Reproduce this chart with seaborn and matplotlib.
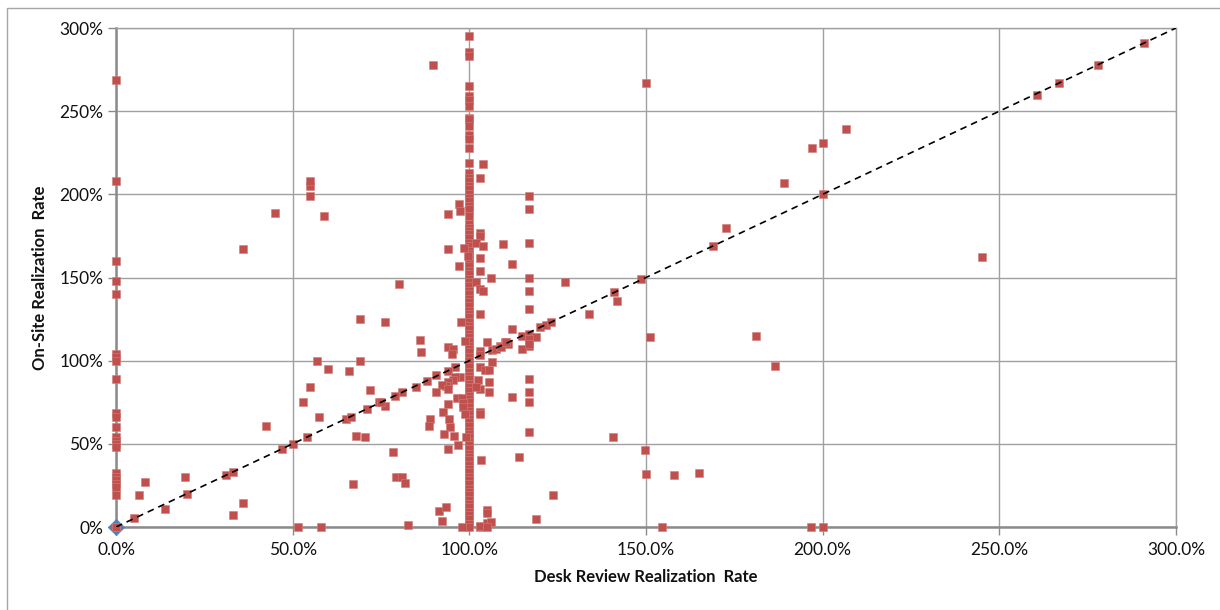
import matplotlib
matplotlib.use("Agg")
import matplotlib.pyplot as plt
import matplotlib.ticker as mticker
from matplotlib.patches import Rectangle
import numpy as np
import pandas as pd
import seaborn as sns

# ---------------- data (percent values) ----------------
# points whose desk review rate is 0%
zero_col_y = [269, 208, 160, 148, 140, 104, 102, 100, 89, 68.7, 66, 60, 54, 52,
              50, 48, 32.5, 30, 28, 26, 24, 19, 0, 0]

# points whose desk review rate is 100%
hundred_col_y = [295, 285.5, 283, 265, 259, 257, 253, 246, 245, 241, 235.5, 233,
                 228, 219, 213, 210, 208, 205, 203, 200, 198, 196, 193, 191, 187,
                 182, 180, 178, 176, 174, 171, 169, 166, 164, 161, 159, 157, 154,
                 152, 149, 147, 145, 142, 140, 137, 135, 133, 130, 128, 126, 123,
                 121, 119, 116, 114, 112, 109, 107, 105, 102, 100, 98, 96, 93, 91,
                 89, 86, 84, 82, 79, 77, 75, 72, 70, 68, 65, 63, 61, 58, 56, 54,
                 51, 49, 47, 44, 42, 40, 37, 35, 33, 30, 28, 26, 23, 21, 19, 16,
                 14, 12, 9, 7, 5, 2, 0]

# all other points (desk review %, on-site %)
other_x = [5.2, 6.6, 8.2, 14, 19.5, 20, 31, 33, 33, 36, 42.5, 47, 50, 51.5,
           36, 45, 55, 55, 55, 59, 69, 57, 69, 60, 66, 55, 72, 53, 57.5, 65,
           66.5, 71, 74.5, 68, 70.5, 54, 67, 58,
           76, 80, 86, 86.3, 94, 95.5, 95, 98.8, 97.6, 96, 94, 90.6, 88, 85,
           81, 79, 76, 75, 97.4, 96, 95.4, 94, 93.4, 92.3, 94, 90.6, 96.5, 98,
           98.2, 98.2, 98.8, 94, 92.6, 89, 94.2, 88.6, 94.5, 92.8, 95.7, 94,
           96.8, 78.4, 79.2, 81, 81.8, 82.6, 91.4, 93.4, 92.3, 98, 99, 89.7,
           97, 97.4, 94, 94, 98.5, 99.5, 97,
           104, 103, 117, 117, 103, 103, 102, 104, 109.5, 117, 103, 103, 112,
           106, 117, 102, 127, 103, 104, 117, 103, 117, 112, 105, 103, 103,
           106.5, 107.5, 108.7, 110, 111, 115, 117, 117, 117, 115, 119, 120,
           121.7, 123, 117, 117, 117, 112, 117, 106.5, 103, 104.5, 105.6,
           102.5, 105.6, 103, 105.6, 102, 103, 103, 103.3, 114, 123.7, 119,
           105, 105, 103, 103, 105, 106, 105, 117, 117, 109, 110.5,
           134, 141, 141.7, 148.6, 151, 140.7, 149.7, 150, 158, 165, 154.5,
           150, 260.7, 267, 278, 291, 206.6, 200, 197, 189, 200, 172.6, 169,
           245, 181, 186.5, 196.7, 200]
other_y = [5.4, 19, 27, 11, 30, 20, 31, 33, 7, 14.5, 61, 47, 50, 0,
           167, 189, 205, 208, 199, 187, 125, 100, 100, 95, 94, 84, 82.5, 75,
           66, 65, 66, 71, 75, 55, 54, 54, 26, 0,
           123.5, 146, 112.6, 105, 108, 107, 104, 112, 123.5, 96, 94, 91.5,
           88, 84, 81, 79, 73, 75, 90, 90, 88.5, 87, 85, 85.5, 83, 81, 77.7,
           77.7, 74.7, 72, 68, 74, 69, 65, 65, 61, 60, 56, 55, 47, 49, 45, 30,
           30, 26.5, 1, 9.6, 12, 3.6, 0, 54, 278, 194, 190, 188, 167, 168,
           163, 157,
           218, 210, 199, 191, 177, 175, 171, 169, 170, 171, 161.5, 154, 158,
           149.5, 150, 147, 147, 143, 141.6, 142, 128, 131, 119, 111.4, 106,
           103.6, 106.6, 107, 109, 111, 110, 115, 116, 112, 109, 107, 114,
           120, 121.7, 123, 89, 81, 75, 78, 57, 99, 96, 94.6, 94.6, 88.5, 87,
           83, 81, 84, 69, 68, 40, 42, 19, 5, 10, 8.4, 0, 0.5, 2.4, 3, 0, 113,
           110, 108, 111,
           128, 141, 136, 149, 114, 54, 46, 32, 31, 32.5, 0,
           267, 260, 267, 278, 291, 239, 231, 228, 207, 200, 180, 169,
           162.6, 115, 97, 0, 0]

origin_x = [0]
origin_y = [0]

diag_x = [0, 300]
diag_y = [0, 300]

x_ticks = [0, 50, 100, 150, 200, 250, 300]
y_ticks = [0, 50, 100, 150, 200, 250, 300]
x_label = "Desk Review Realization  Rate"
y_label = "On-Site Realization  Rate"

# ---------------- build frame ----------------
xs = [0.0] * len(zero_col_y) + [100.0] * len(hundred_col_y) + list(other_x)
ys = list(zero_col_y) + list(hundred_col_y) + list(other_y)
df = pd.DataFrame({"desk": np.array(xs) / 100.0, "onsite": np.array(ys) / 100.0})
diag = pd.DataFrame({"x": np.array(diag_x) / 100.0, "y": np.array(diag_y) / 100.0})
orig = pd.DataFrame({"x": np.array(origin_x) / 100.0, "y": np.array(origin_y) / 100.0})

sns.set_style("white")
plt.rcParams["font.family"] = ["Lato", "DejaVu Sans"]
plt.rcParams["font.size"] = 12

fig = plt.figure(figsize=(12.2, 6.1), dpi=100)
ax = fig.add_axes([116 / 1220, 1 - 527 / 610, (1176 - 116) / 1220, (527 - 28) / 610])

grid_c = "#a0a0a0"
axis_c = "#8a8a8a"

sns.scatterplot(data=orig, x="x", y="y", ax=ax, marker="D", s=70,
                color="#4F81BD", edgecolor="#4F81BD", linewidth=0.5, zorder=3,
                clip_on=False, legend=False)
sns.scatterplot(data=df, x="desk", y="onsite", ax=ax, marker="s", s=32,
                color="#C0504D", edgecolor="#d27d7a", linewidth=0.4, zorder=4,
                clip_on=False, legend=False)
sns.lineplot(data=diag, x="x", y="y", ax=ax, color="black", linewidth=1.2,
             linestyle=(0, (4, 3)), zorder=5, legend=False)

ax.set_xlim(0, 3.0)
ax.set_ylim(0, 3.0)
ax.set_xticks(np.array(x_ticks) / 100.0)
ax.set_yticks(np.array(y_ticks) / 100.0)
ax.xaxis.set_major_formatter(mticker.PercentFormatter(1.0, decimals=1))
ax.yaxis.set_major_formatter(mticker.PercentFormatter(1.0, decimals=0))

ax.grid(True, color=grid_c, linewidth=1.0)
ax.set_axisbelow(True)
for side in ["top", "right"]:
    ax.spines[side].set_visible(True)
    ax.spines[side].set_color(grid_c)
    ax.spines[side].set_linewidth(1.0)
for side in ["left", "bottom"]:
    ax.spines[side].set_color(axis_c)
    ax.spines[side].set_linewidth(1.8)

ax.tick_params(axis="both", which="major", direction="out", length=6,
               width=1.0, color=axis_c, labelsize=12.5, labelcolor="#111111")
ax.tick_params(axis="x", pad=5, bottom=True)
ax.tick_params(axis="y", pad=3, left=True)

ax.set_xlabel(x_label, fontsize=12, fontweight="bold", labelpad=8, color="#111111")
ax.set_ylabel(y_label, fontsize=12, fontweight="bold", labelpad=8, color="#111111")

# outer chart border
fig.patches.append(Rectangle((7 / 1220, -0.1), 1.2, 0.1 + 1 - 8 / 610,
                             transform=fig.transFigure, fill=False,
                             edgecolor="#a6a6a6", linewidth=1.0))

fig.savefig("out.png", dpi=100, facecolor="white")
